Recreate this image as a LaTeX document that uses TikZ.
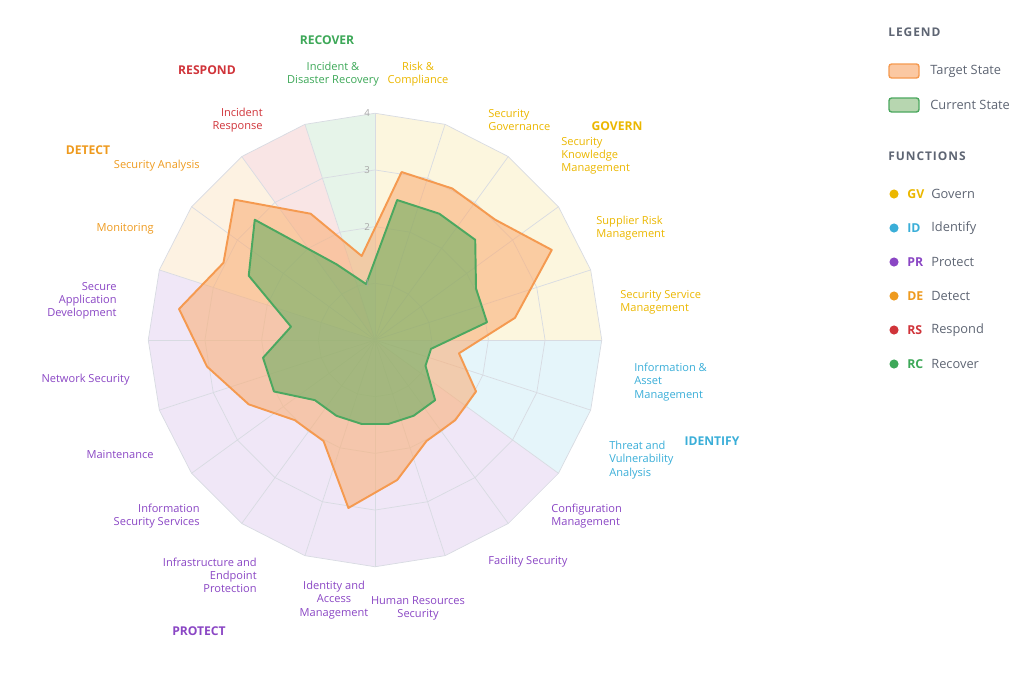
\documentclass[tikz,border=0pt]{standalone}
\usepackage{fontspec}
\setmainfont{Open Sans}
\usetikzlibrary{positioning}
\definecolor{gvCol}{HTML}{EBB700}
\definecolor{idCol}{HTML}{3AAED8}
\definecolor{prCol}{HTML}{8A46C4}
\definecolor{deCol}{HTML}{EE9A1E}
\definecolor{rsCol}{HTML}{D0343A}
\definecolor{rcCol}{HTML}{3DA858}
\definecolor{gridCol}{HTML}{D8DBE2}
\definecolor{greyText}{HTML}{5E6573}
\definecolor{tgtLine}{HTML}{F59A50}
\definecolor{tgtFill}{HTML}{F9B07A}
\definecolor{curLine}{HTML}{4CA860}
\definecolor{curFill}{HTML}{6FAE62}
\newcommand{\lblFont}{\fontsize{6.3}{7.5}\selectfont}
\newcommand{\hdrFont}{\fontsize{6.9}{8}\selectfont\bfseries}
\begin{document}
\begin{tikzpicture}[x=0.02cm,y=-0.02cm,%%
  gridStyle/.style={draw=gridCol,line width=0.4pt},%%
  lblStyle/.style={font=\lblFont,inner sep=0pt},%%
  hdrStyle/.style={font=\hdrFont,inner sep=0pt},%%
  legStyle/.style={font=\fontsize{7.3}{8.5}\selectfont,text=greyText,inner sep=0pt,anchor=west},%%
  dotStyle/.style={circle,inner sep=0pt,minimum size=5.2pt}
]
\useasboundingbox (0,0) rectangle (1030,676);
\coordinate (centre) at (375,340);
%% Sectors, grid and data.
\begin{scope}[shift={(375,340)},x=1.134cm,y=1.134cm]
  \foreach \k/\c in {0/gvCol,1/gvCol,2/gvCol,3/gvCol,4/gvCol,5/idCol,6/idCol,%%
      7/prCol,8/prCol,9/prCol,10/prCol,11/prCol,12/prCol,13/prCol,14/prCol,15/prCol,%%
      16/deCol,17/deCol,18/rsCol,19/rcCol}{
    \fill[\c!13] (0,0) -- ({90-18*\k}:4) -- ({72-18*\k}:4) -- cycle;
  }
  \foreach \l in {1,2,3,4}{
    \draw[gridStyle] (90:\l) \foreach \k in {1,...,19}{-- ({90-18*\k}:\l)} -- cycle;
  }
  \foreach \k in {0,...,19}{
    \draw[gridStyle] (0,0) -- ({90-18*\k}:4);
  }
  %% Target and current values.
  \foreach \v [count=\i] in {3,3,3,3.5,2.5,1.5,2,2,2,2.5,3,2,2,2.5,3,3.5,3,3.5,2.5,1.5}{
    \coordinate (t\i) at ({99-18*\i}:\v);
  }
  \foreach \v [count=\i] in {2.5,2.5,2.5,2,2,1,1,1.5,1.5,1.5,1.5,1.5,1.5,2,2,1.5,2.5,3,1.5,1}{
    \coordinate (c\i) at ({99-18*\i}:\v);
  }
  \draw[tgtLine,line width=1.1pt,fill=tgtFill,fill opacity=0.6,line join=round]
    (t1) \foreach \i in {2,...,20}{-- (t\i)} -- cycle;
  \draw[curLine,line width=1.1pt,fill=curFill,fill opacity=0.6,line join=round]
    (c1) \foreach \i in {2,...,20}{-- (c\i)} -- cycle;
  \foreach \l in {1,2,3,4}{
    \node[font=\fontsize{5.5}{6}\selectfont,text=gray!70,inner sep=0pt] (tick\l) at (-0.14,\l) {\l};
  }
\end{scope}
%% Category labels.
\node[lblStyle,text=gvCol,align=center] (riskComp) at (418,74) {Risk \&\\Compliance};
\node[lblStyle,text=gvCol,align=left,anchor=west] (secGov) at (488,120) {Security\\Governance};
\node[lblStyle,text=gvCol,align=left,anchor=west] (secKnow) at (561,156) {Security\\Knowledge\\Management};
\node[lblStyle,text=gvCol,align=left,anchor=west] (suppRisk) at (596,228) {Supplier Risk\\Management};
\node[lblStyle,text=gvCol,align=left,anchor=west] (secServ) at (620,302) {Security Service\\Management};
\node[lblStyle,text=idCol,align=left,anchor=west] (infoAsset) at (634,382) {Information \&\\Asset\\Management};
\node[lblStyle,text=idCol,align=left,anchor=west] (threatVul) at (609,460) {Threat and\\Vulnerability\\Analysis};
\node[lblStyle,text=prCol,align=left,anchor=west] (confMan) at (551,516) {Configuration\\Management};
\node[lblStyle,text=prCol,align=left,anchor=west] (facSec) at (488,562) {Facility Security};
\node[lblStyle,text=prCol,align=center] (hrSec) at (418,608) {Human Resources\\Security};
\node[lblStyle,text=prCol,align=center] (idAccess) at (334,600) {Identity and\\Access\\Management};
\node[lblStyle,text=prCol,align=right,anchor=east] (infraEnd) at (257,575) {Infrastructure and\\Endpoint\\Protection};
\node[lblStyle,text=prCol,align=right,anchor=east] (infoSecServ) at (200,516) {Information\\Security Services};
\node[lblStyle,text=prCol,align=right,anchor=east] (maint) at (154,454) {Maintenance};
\node[lblStyle,text=prCol,align=right,anchor=east] (netSec) at (130,380) {Network Security};
\node[lblStyle,text=prCol,align=right,anchor=east] (secApp) at (117,301) {Secure\\Application\\Development};
\node[lblStyle,text=deCol,align=right,anchor=east] (monit) at (154,229) {Monitoring};
\node[lblStyle,text=deCol,align=right,anchor=east] (secAna) at (200,166) {Security Analysis};
\node[lblStyle,text=rsCol,align=right,anchor=east] (incResp) at (263,120) {Incident\\Response};
\node[lblStyle,text=rcCol,align=center] (incRec) at (333,74) {Incident \&\\Disaster Recovery};
%% Function headers.
\node[hdrStyle,text=rcCol] (hdrRC) at (327,40) {RECOVER};
\node[hdrStyle,text=rsCol] (hdrRS) at (207,70) {RESPOND};
\node[hdrStyle,text=deCol] (hdrDE) at (88,150) {DETECT};
\node[hdrStyle,text=gvCol] (hdrGV) at (617,126) {GOVERN};
\node[hdrStyle,text=idCol] (hdrID) at (712,441) {IDENTIFY};
\node[hdrStyle,text=prCol] (hdrPR) at (199,631) {PROTECT};
%% Legend.
\node[legStyle,font=\fontsize{6.8}{8}\selectfont\bfseries] (legTitle) at (888,32) {\addfontfeature{LetterSpace=8}LEGEND};
\draw[tgtLine,fill=tgtFill!70,line width=0.8pt,rounded corners=1.5pt] (889,64) rectangle (919,78);
\node[legStyle] (legTgt) at (930,71) {Target State};
\draw[curLine,fill=curFill!50,line width=0.8pt,rounded corners=1.5pt] (889,98) rectangle (919,112);
\node[legStyle] (legCur) at (930,105) {Current State};
\node[legStyle,font=\fontsize{6.8}{8}\selectfont\bfseries] (funcTitle) at (888,156) {\addfontfeature{LetterSpace=8}FUNCTIONS};
\foreach \y/\c/\code/\name in {194/gvCol/GV/Govern,228/idCol/ID/Identify,262/prCol/PR/Protect,%%
    296/deCol/DE/Detect,330/rsCol/RS/Respond,364/rcCol/RC/Recover}{
  \node[dotStyle,fill=\c] (dot\code) at (894,\y) {};
  \node[legStyle,text=\c,font=\fontsize{7}{8}\selectfont\bfseries] (code\code) at (907,\y) {\code};
  \node[legStyle] (name\code) at (931,\y) {\name};
}
\end{tikzpicture}
\end{document}
